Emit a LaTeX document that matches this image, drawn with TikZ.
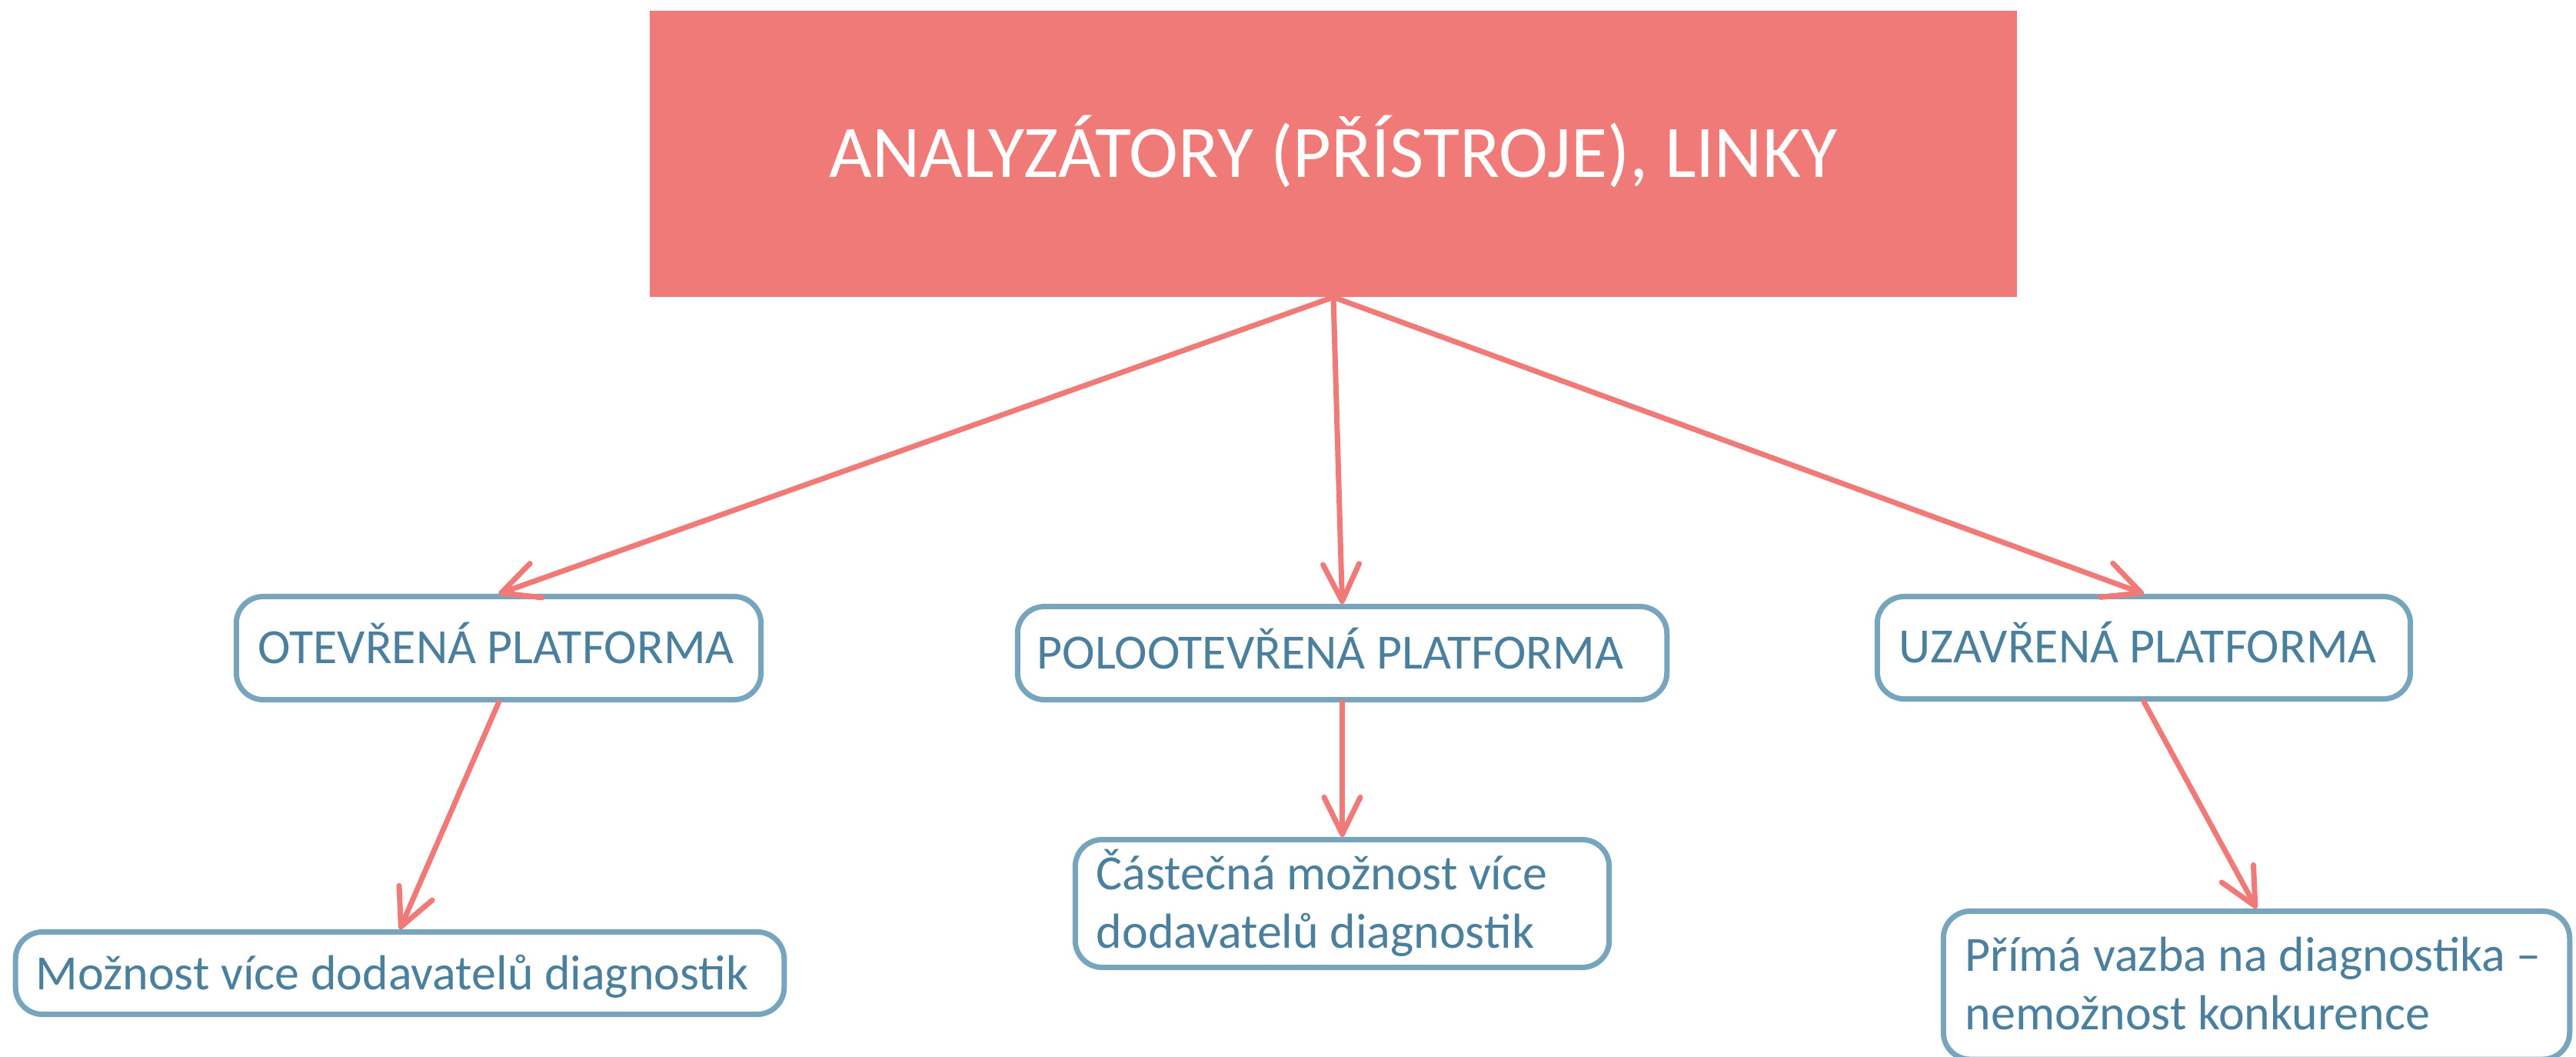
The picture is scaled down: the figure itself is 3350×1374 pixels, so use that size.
\documentclass[tikz,border=0pt]{standalone}
\usepackage{fontspec}
\setmainfont{Carlito}
\usetikzlibrary{arrows.meta}
\definecolor{salmon}{RGB}{239,122,119}
\definecolor{boxline}{RGB}{120,165,190}
\definecolor{boxtext}{RGB}{74,127,158}
\begin{document}
\begin{tikzpicture}[x=0.01cm,y=-0.01cm,
  box/.style={draw=boxline, line width=0.07cm, rounded corners=0.35cm, fill=white, inner sep=0pt},
  lbl/.style={anchor=base west, inner sep=0pt, text=boxtext, font=\fontsize{18.2}{21.8}\selectfont, align=left},
  conn/.style={draw=salmon, line width=0.07cm, line cap=round, -{Straight Barb[length=0.48cm,width=0.47cm,round]}}]
\useasboundingbox (0,0) rectangle (3350,1374);
\node[fill=salmon, minimum width=17.77cm, minimum height=3.71cm, inner sep=0pt, text=white,
  font=\fontsize{27.4}{33}\selectfont, text height=18pt, text depth=0.4pt] (top) at (1734,200) {ANALYZÁTORY (PŘÍSTROJE), LINKY};

\node[box, minimum width=6.82cm, minimum height=1.34cm] (b1) at (648.5,842.5) {};
\node[box, minimum width=8.44cm, minimum height=1.21cm] (b2) at (1745.5,849) {};
\node[box, minimum width=6.93cm, minimum height=1.33cm] (b3) at (2788,842) {};
\node[box, minimum width=9.99cm, minimum height=1.07cm] (b4) at (520,1265) {};
\node[box, minimum width=6.94cm, minimum height=1.66cm] (b5) at (1745.5,1174.5) {};
\node[box, minimum width=8.14cm, minimum height=1.925cm] (b6) at (2934.5,1280.75) {};

\node[lbl] (t1) at (335,863) {OTEVŘENÁ PLATFORMA};
\node[lbl] (t2) at (1348,870) {POLOOTEVŘENÁ PLATFORMA};
\node[lbl] (t3) at (2469,862) {UZAVŘENÁ PLATFORMA};
\node[lbl] (t4) at (46,1287) {Možnost více dodavatelů diagnostik};
\node[lbl] (t5) at (1425,1233) {Částečná možnost více\\dodavatelů diagnostik};
\node[lbl] (t6) at (2555,1339) {Přímá vazba na diagnostika –\\nemožnost konkurence};

\draw[conn] (top.south) -- (b1.north);
\draw[conn] (top.south) -- (b2.north);
\draw[conn] (top.south) -- (b3.north);
\draw[conn] (b1.south) -- (b4.north);
\draw[conn] (b2.south) -- (b5.north);
\draw[conn] (b3.south) -- (b6.north);
\end{tikzpicture}
\end{document}
